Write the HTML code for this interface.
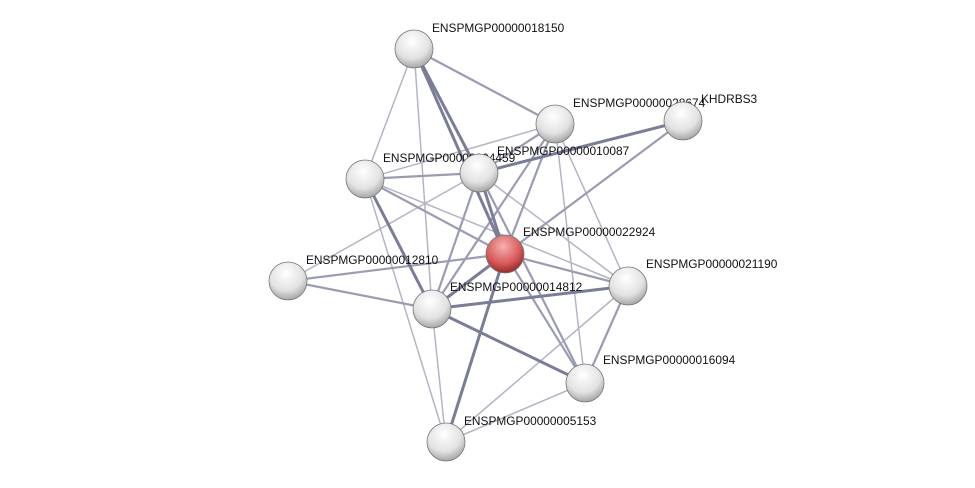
<!DOCTYPE html>
<html><head><meta charset="utf-8"><style>
html,body{margin:0;padding:0;background:#fff;width:975px;height:488px;overflow:hidden}
text{font-family:"Liberation Sans",sans-serif;font-size:11.9px;fill:#111}
</style></head><body>
<svg width="975" height="488" viewBox="0 0 975 488">
<defs>
<radialGradient id="g" cx="0.45" cy="0.3" r="0.75">
<stop offset="0" stop-color="#ffffff"/><stop offset="0.6" stop-color="#e2e2e2"/><stop offset="1" stop-color="#9a9a9a"/></radialGradient>
<radialGradient id="r" cx="0.45" cy="0.3" r="0.75">
<stop offset="0" stop-color="#f4b0b0"/><stop offset="0.6" stop-color="#d95a5a"/><stop offset="1" stop-color="#8a2020"/></radialGradient>
</defs>
<g stroke-linecap="round">
<g stroke="#b4b4c4" stroke-width="1.5">
<line x1="414" y1="49" x2="365" y2="179"/>
<line x1="414" y1="49" x2="432" y2="309"/>
<line x1="555" y1="124" x2="365" y2="179"/>
<line x1="555" y1="124" x2="628" y2="286"/>
<line x1="555" y1="124" x2="585" y2="383"/>
<line x1="365" y1="179" x2="628" y2="286"/>
<line x1="365" y1="179" x2="446" y2="442"/>
<line x1="479" y1="173" x2="288" y2="281"/>
<line x1="479" y1="173" x2="628" y2="286"/>
<line x1="628" y1="286" x2="446" y2="442"/>
<line x1="628" y1="286" x2="432" y2="309"/>
<line x1="585" y1="383" x2="446" y2="442"/>
<line x1="432" y1="309" x2="585" y2="383"/>
<line x1="432" y1="309" x2="446" y2="442"/>
</g>
<g stroke="#9a9cb2" stroke-width="2.2">
<line x1="414" y1="49" x2="555" y2="124"/>
<line x1="555" y1="124" x2="479" y2="173"/>
<line x1="555" y1="124" x2="432" y2="309"/>
<line x1="683" y1="121" x2="505" y2="254"/>
<line x1="365" y1="179" x2="479" y2="173"/>
<line x1="479" y1="173" x2="585" y2="383"/>
<line x1="479" y1="173" x2="432" y2="309"/>
<line x1="288" y1="281" x2="505" y2="254"/>
<line x1="288" y1="281" x2="432" y2="309"/>
<line x1="505" y1="254" x2="628" y2="286"/>
<line x1="505" y1="254" x2="585" y2="383"/>
<line x1="628" y1="286" x2="585" y2="383"/>
<line x1="365" y1="179" x2="505" y2="254"/>
<line x1="555" y1="124" x2="505" y2="254"/>
</g>
<g stroke="#7a7d98" stroke-width="3">
<line x1="414" y1="49" x2="505" y2="254"/>
<line x1="414" y1="49" x2="479" y2="173"/>
<line x1="683" y1="121" x2="479" y2="173"/>
<line x1="365" y1="179" x2="432" y2="309"/>
<line x1="479" y1="173" x2="505" y2="254"/>
<line x1="505" y1="254" x2="432" y2="309"/>
<line x1="505" y1="254" x2="446" y2="442"/>
<line x1="432" y1="309" x2="628" y2="286"/>
<line x1="432" y1="309" x2="585" y2="383"/>
</g>
</g>
<g stroke="#777" stroke-width="0.8">
<circle cx="414" cy="49" r="19" fill="url(#g)"/>
<circle cx="365" cy="179" r="19" fill="url(#g)"/>
<circle cx="288" cy="281" r="19" fill="url(#g)"/>
<circle cx="432" cy="309" r="19" fill="url(#g)"/>
<circle cx="628" cy="286" r="19" fill="url(#g)"/>
<circle cx="585" cy="383" r="19" fill="url(#g)"/>
<circle cx="446" cy="442" r="19" fill="url(#g)"/>
<circle cx="505" cy="254" r="19" fill="url(#r)"/>
</g>
<text x="432" y="32">ENSPMGP00000018150</text>
<text x="573" y="107">ENSPMGP00000028674</text>
<text x="383" y="162">ENSPMGP00000004459</text>
<text x="523" y="236">ENSPMGP00000022924</text>
<text x="306" y="264">ENSPMGP00000012810</text>
<text x="450" y="291">ENSPMGP00000014812</text>
<text x="646" y="268">ENSPMGP00000021190</text>
<text x="603" y="364">ENSPMGP00000016094</text>
<text x="464" y="425">ENSPMGP00000005153</text>
<g stroke="#777" stroke-width="0.8">
<circle cx="555" cy="124" r="19" fill="url(#g)"/>
<circle cx="479" cy="173" r="19" fill="url(#g)"/>
<circle cx="683" cy="121" r="19" fill="url(#g)"/>
</g>
<text x="497" y="155">ENSPMGP00000010087</text>
<text x="701" y="103">KHDRBS3</text>
</svg>
</body></html>
